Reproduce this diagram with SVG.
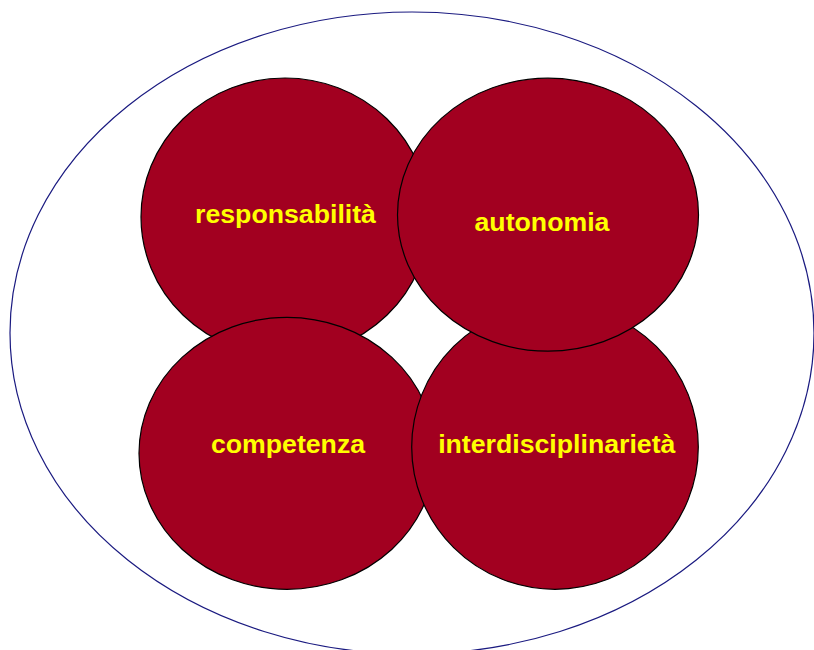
<svg xmlns="http://www.w3.org/2000/svg" width="814" height="650" viewBox="0 0 814 650">
  <style>
    .frame { fill: none; stroke: #1a1a80; stroke-width: 1.2; }
    .bubble { fill: #A20020; stroke: #000000; stroke-width: 1.2; }
    .label { fill: #FFFF00; font-family: "Liberation Sans", Arial, sans-serif; font-weight: bold; font-size: 26.7px; text-anchor: middle; }
  </style>
  <rect width="814" height="650" fill="#ffffff"/>
  <!-- outer enclosing ellipse -->
  <ellipse class="frame" cx="412" cy="333" rx="402" ry="321"/>
  <g id="responsabilita">
    <ellipse class="bubble" cx="285" cy="217" rx="144" ry="139"/>
    <text class="label" x="285.5" y="223">responsabilità</text>
  </g>
  <g id="competenza">
    <ellipse class="bubble" cx="287" cy="453.3" rx="148" ry="136"/>
    <text class="label" x="288" y="452.7">competenza</text>
  </g>
  <g id="interdisciplinarieta">
    <ellipse class="bubble" cx="555" cy="447" rx="143.3" ry="142.3"/>
    <text class="label" x="556.8" y="453.3">interdisciplinarietà</text>
  </g>
  <g id="autonomia">
    <ellipse class="bubble" cx="548" cy="214.7" rx="150.5" ry="136.5"/>
    <text class="label" x="542" y="231">autonomia</text>
  </g>
  <g id="connectors"></g>
</svg>
